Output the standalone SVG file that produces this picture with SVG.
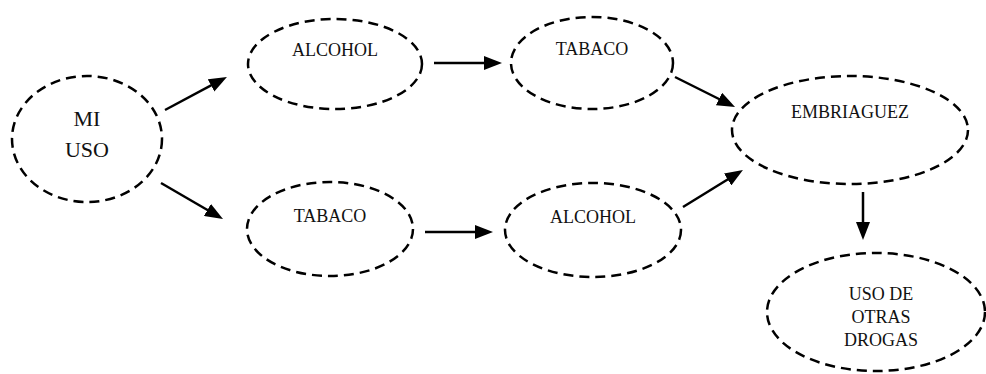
<svg xmlns="http://www.w3.org/2000/svg" width="986" height="374" viewBox="0 0 986 374">
<style>
.n{fill:none;stroke:#000;stroke-width:2.5;stroke-dasharray:10 6}
text{font-family:'Liberation Serif',Tinos,'Times New Roman',serif;font-size:18px;fill:#111;text-anchor:middle}
.big{font-size:22px}
.c line{stroke:#000;stroke-width:2.5;marker-end:url(#ah)}
</style>
<defs>
<marker id="ah" markerUnits="userSpaceOnUse" markerWidth="18" markerHeight="14" refX="9" refY="7" orient="auto">
<path d="M0,0 L18,7 L0,14 z" fill="#000"/>
</marker>
</defs>
<rect width="986" height="374" fill="#fff"/>
<g id="mi-uso"><ellipse class="n" cx="87" cy="139" rx="75" ry="63"/><text class="big" x="87" y="126">MI</text><text class="big" x="87" y="157">USO</text></g>
<g id="alcohol-top"><ellipse class="n" cx="335" cy="64" rx="87" ry="45"/><text x="335" y="56">ALCOHOL</text></g>
<g id="tabaco-top"><ellipse class="n" cx="592" cy="63" rx="81" ry="46"/><text x="592" y="55">TABACO</text></g>
<g id="tabaco-bottom"><ellipse class="n" cx="330" cy="229" rx="83" ry="47"/><text x="330" y="222">TABACO</text></g>
<g id="alcohol-bottom"><ellipse class="n" cx="593" cy="230" rx="88" ry="47"/><text x="593" y="223">ALCOHOL</text></g>
<g id="embriaguez"><ellipse class="n" cx="850" cy="130" rx="118" ry="54"/><text x="850" y="118">EMBRIAGUEZ</text></g>
<g id="otras-drogas"><ellipse class="n" cx="876" cy="312" rx="109" ry="59"/><text x="881" y="300">USO DE</text><text x="881" y="323">OTRAS</text><text x="881" y="346">DROGAS</text></g>
<g id="connectors" class="c">
<line x1="165" y1="110" x2="219" y2="81.2"/>
<line x1="161" y1="183" x2="215.2" y2="214.5"/>
<line x1="434" y1="63" x2="493" y2="63"/>
<line x1="425" y1="232" x2="484" y2="232"/>
<line x1="675" y1="77" x2="727" y2="103"/>
<line x1="683" y1="207" x2="735.3" y2="174.7"/>
<line x1="863" y1="192" x2="863" y2="231"/>
</g>
</svg>
